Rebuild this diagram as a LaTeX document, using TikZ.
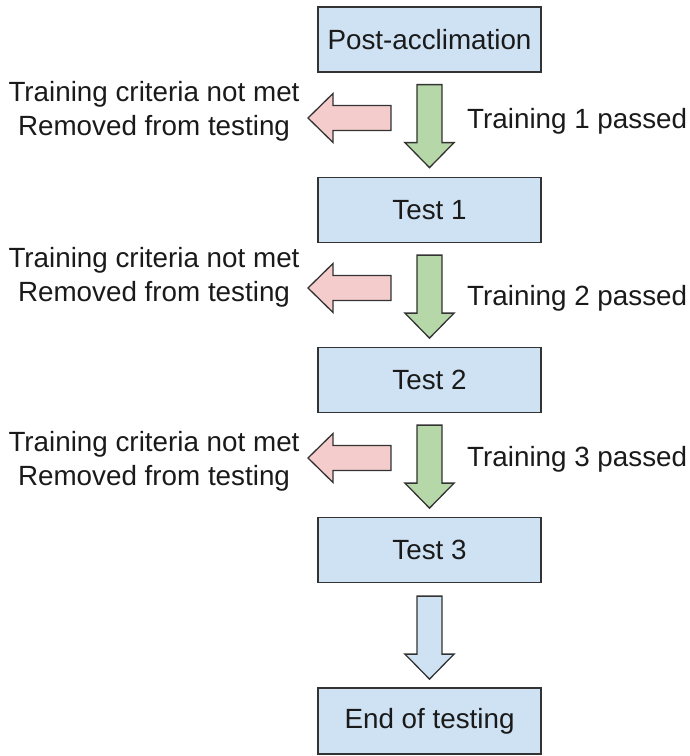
\documentclass[tikz,border=0pt]{standalone}
\usepackage{fontspec}
\setmainfont{Liberation Sans}
\usetikzlibrary{calc}
\definecolor{boxblue}{HTML}{CFE2F3}
\definecolor{arrgreen}{HTML}{B6D7A8}
\definecolor{arrred}{HTML}{F4CCCC}
\definecolor{edge}{HTML}{333333}
\definecolor{txt}{HTML}{1A1A1A}
\tikzset{
  stagebox/.style={draw=edge, line width=1.3pt, fill=boxblue, minimum width=223pt, minimum height=65pt, inner sep=0pt, text=txt, font=\fontsize{27.8}{33.5}\selectfont},
  lbl/.style={inner sep=0pt, text=txt, font=\fontsize{27.8}{33.5}\selectfont, align=center},
  pics/blockarrow/.style={code={\draw[draw=edge, line width=1.3pt, line join=miter, fill=#1]
     (0,12.5) -- (58,12.5) -- (58,24.5) -- (83,0) -- (58,-24.5) -- (58,-12.5) -- (0,-12.5) -- cycle;}}
}
\begin{document}
\begin{tikzpicture}[x=1pt,y=1pt]
\useasboundingbox (0,0) rectangle (689,756);
\node[stagebox] (post) at (429.5,716.5) {Post-acclimation};
\node[stagebox] (t1) at (429.5,546) {Test 1};
\node[stagebox] (t2) at (429.5,376) {Test 2};
\node[stagebox] (t3) at (429.5,206) {Test 3};
\node[stagebox, minimum height=66pt] (end) at (429.5,35) {End of testing};
% green down arrows
\coordinate (g1) at ($(post.south)+(0,-12)$);
\coordinate (g2) at ($(t1.south)+(0,-12)$);
\coordinate (g3) at ($(t2.south)+(0,-12)$);
\coordinate (b4) at ($(t3.south)+(0,-13)$);
\pic[rotate=-90] at (g1) {blockarrow=arrgreen};
\pic[rotate=-90] at (g2) {blockarrow=arrgreen};
\pic[rotate=-90] at (g3) {blockarrow=arrgreen};
\pic[rotate=-90] at (b4) {blockarrow=boxblue};
% red left arrows
\coordinate (r1) at (391,638);
\coordinate (r2) at (391,468);
\coordinate (r3) at (391,298);
\pic[rotate=180] at (r1) {blockarrow=arrred};
\pic[rotate=180] at (r2) {blockarrow=arrred};
\pic[rotate=180] at (r3) {blockarrow=arrred};
% labels
\node[lbl, anchor=west] (p1) at (467,635) {Training 1 passed};
\node[lbl, anchor=west] (p2) at (467,458) {Training 2 passed};
\node[lbl, anchor=west] (p3) at (467,297) {Training 3 passed};
\node[lbl] (f1) at (154,644.5) {Training criteria not met\\Removed from testing};
\node[lbl] (f2) at (154,478.5) {Training criteria not met\\Removed from testing};
\node[lbl] (f3) at (154,294.5) {Training criteria not met\\Removed from testing};
\end{tikzpicture}
\end{document}
